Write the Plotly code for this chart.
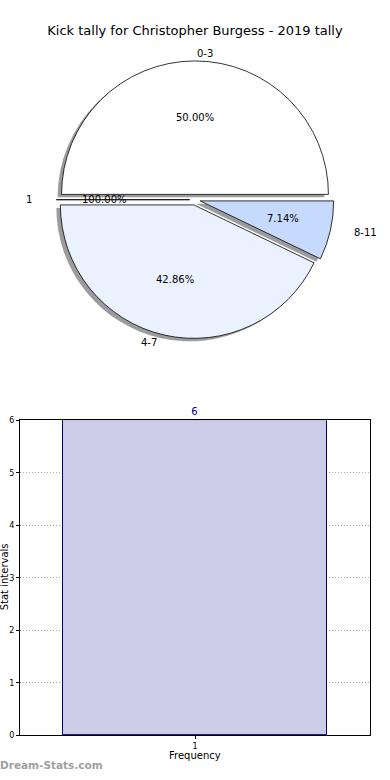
import numpy as np
import plotly.graph_objects as go

# ---------------- data ----------------
title_text = "Kick tally for Christopher Burgess - 2019 tally"
pie_labels = ["0-3", "1", "4-7", "8-11"]
pie_values = [7, 0, 6, 1]
pie_pct_text = ["50.00%", "100.00%", "42.86%", "7.14%"]
pie_colors = ["#ffffff", "#ffffff", "#ebf2ff", "#c6d9ff"]

bar_categories = [1]
bar_values = [6]
bar_labels = ["6"]
y_ticks = [0, 1, 2, 3, 4, 5, 6]
x_title = "Frequency"
y_title = "Stat intervals"
watermark = "Dream-Stats.com"

# ---------------- geometry ----------------
W, H = 390, 780
FONT = "DejaVu Sans"
cx, cy = 195, 198          # pie centre (px)
r_pie = 135                # drawn pie radius (px)
explode = 0.04
rx, ry = 141, 130          # text placement radii (px)

def px_to_paper(x, y):
    return x / W, 1 - y / H

half = r_pie * (1 + explode)
dom_x = [(cx - half) / W, (cx + half) / W]
dom_y = [1 - (cy + half) / H, 1 - (cy - half) / H]

fig = go.Figure()

# shadow pie
sx, sy = -4 / W, -3 / H
fig.add_trace(go.Pie(
    labels=pie_labels, values=pie_values, sort=False,
    direction="counterclockwise", rotation=-90,
    pull=[explode] * len(pie_values),
    marker=dict(colors=["rgba(90,90,90,0.6)"] * len(pie_values), line=dict(width=0)),
    textinfo="none", hoverinfo="skip", showlegend=False,
    domain=dict(x=[dom_x[0] + sx, dom_x[1] + sx], y=[dom_y[0] + sy, dom_y[1] + sy]),
))

# main pie
fig.add_trace(go.Pie(
    labels=pie_labels, values=pie_values, sort=False,
    direction="counterclockwise", rotation=-90,
    pull=[explode] * len(pie_values),
    marker=dict(colors=pie_colors, line=dict(color="black", width=0.8)),
    textinfo="none", showlegend=False,
    domain=dict(x=dom_x, y=dom_y),
))

# pie text (matplotlib-style placement computed from the values)
vals = np.array(pie_values, dtype=float)
total = vals.sum()
cum = np.concatenate([[0], np.cumsum(vals)[:-1]])
mid = 2 * np.pi * (cum + vals / 2) / total
annotations = []
for lab, pct, a in zip(pie_labels, pie_pct_text, mid):
    c, s = np.cos(a), np.sin(a)
    lx, ly = px_to_paper(cx + rx * (1.1 + explode) * c, cy - ry * (1.1 + explode) * s)
    annotations.append(dict(x=lx, y=ly, xref="paper", yref="paper", text=lab,
                            showarrow=False, xanchor="left" if c > 0 else "right",
                            yanchor="middle", font=dict(size=10, color="black", family=FONT)))
    tx, ty = px_to_paper(cx + rx * (0.6 + explode) * c, cy - ry * (0.6 + explode) * s)
    annotations.append(dict(x=tx, y=ty, xref="paper", yref="paper", text=pct,
                            showarrow=False, xanchor="center", yanchor="middle",
                            font=dict(size=10, color="black", family=FONT)))

# ---------------- bar chart ----------------
fig.add_trace(go.Bar(
    x=bar_categories, y=bar_values, width=0.8,
    marker=dict(color="#cccce6", line=dict(color="navy", width=1)),
    text=bar_labels, textposition="outside", cliponaxis=False,
    textfont=dict(color="navy", size=10, family=FONT),
    showlegend=False, hoverinfo="skip",
))

ax_left, ax_right, ax_top, ax_bot = 20, 370, 421, 740
grid_dash = "1px,2px"
fig.update_layout(
    width=W, height=H,
    margin=dict(l=0, r=0, t=0, b=0),
    paper_bgcolor="white", plot_bgcolor="white",
    font=dict(family=FONT, color="black"),
    title=dict(text=title_text, x=0.5, xanchor="center", y=1 - 30 / H, yanchor="middle",
               font=dict(size=13, family=FONT, color="black")),
    xaxis=dict(domain=[ax_left / W, ax_right / W], range=[0.47, 1.53],
               tickvals=bar_categories, ticktext=[str(c) for c in bar_categories],
               showgrid=True, gridcolor="#aaaaaa", griddash=grid_dash, gridwidth=1,
               showline=True, linecolor="black", linewidth=1, mirror=True,
               ticks="outside", ticklen=3, tickcolor="black",
               tickfont=dict(size=8, family=FONT), zeroline=False, fixedrange=True),
    yaxis=dict(domain=[1 - ax_bot / H, 1 - ax_top / H], range=[0, 6],
               tickvals=y_ticks, ticktext=[str(t) for t in y_ticks],
               showgrid=True, gridcolor="#aaaaaa", griddash=grid_dash, gridwidth=1,
               showline=True, linecolor="black", linewidth=1, mirror=True,
               ticks="outside", ticklen=3, tickcolor="black",
               tickfont=dict(size=8, family=FONT), zeroline=False, fixedrange=True),
    bargap=0,
)

xt_x, xt_y = px_to_paper(195, 760)
annotations.append(dict(x=xt_x, y=xt_y, xref="paper", yref="paper", text=x_title,
                        showarrow=False, xanchor="center", yanchor="middle",
                        font=dict(size=10, family=FONT, color="black")))
yt_x, yt_y = px_to_paper(4, 580)
annotations.append(dict(x=yt_x, y=yt_y, xref="paper", yref="paper", text=y_title,
                        showarrow=False, xanchor="center", yanchor="middle", textangle=-90,
                        font=dict(size=10, family=FONT, color="black")))
wm_x, wm_y = px_to_paper(-2, 770)
annotations.append(dict(x=wm_x, y=wm_y, xref="paper", yref="paper", text="<b>" + watermark + "</b>",
                        showarrow=False, xanchor="left", yanchor="middle",
                        font=dict(size=10.5, family=FONT, color="#a0a0a0")))

fig.update_layout(annotations=annotations)
fig.write_html(
    "out.html",
    config={"displayModeBar": False, "responsive": False},
    post_script=("document.body.style.margin='0';"
                 "document.body.style.overflow='hidden';"
                 "document.documentElement.style.overflow='hidden';"),
)
